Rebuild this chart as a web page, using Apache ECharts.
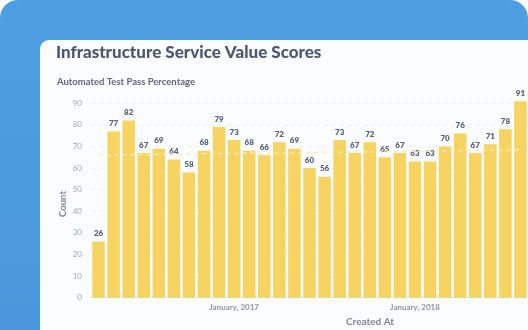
<!DOCTYPE html>
<html>
<head>
<meta charset="utf-8">
<script src="https://cdn.jsdelivr.net/npm/echarts@6/dist/echarts.min.js"></script>
<style>
  html, body { margin: 0; padding: 0; background: #ffffff; }
  #wrap { position: relative; width: 528px; height: 330px; overflow: hidden; }
  #backdrop {
    position: absolute; left: 0; top: 0; width: 528px; height: 360px;
    background: linear-gradient(180deg, #4f9ee2 0%, #4a96dc 100%);
    border-radius: 18px 18px 0 0;
  }
  #card {
    position: absolute; left: 40px; top: 40px; width: 520px; height: 320px;
    background: #fafcfe; border-radius: 9px 0 0 0;
  }
  #chart { position: absolute; left: 0; top: 0; width: 528px; height: 330px; }
</style>
</head>
<body>
<div id="wrap">
  <div id="backdrop"></div>
  <div id="card"></div>
  <div id="chart"></div>
</div>
<script>
// Monthly pass percentages
const months = [
  'April, 2016', 'May, 2016', 'June, 2016', 'July, 2016', 'August, 2016',
  'September, 2016', 'October, 2016', 'November, 2016', 'December, 2016',
  'January, 2017', 'February, 2017', 'March, 2017', 'April, 2017', 'May, 2017',
  'June, 2017', 'July, 2017', 'August, 2017', 'September, 2017', 'October, 2017',
  'November, 2017', 'December, 2017', 'January, 2018', 'February, 2018',
  'March, 2018', 'April, 2018', 'May, 2018', 'June, 2018', 'July, 2018', 'August, 2018'
];
const passCounts = [
  26, 77, 82, 67, 69, 64, 58, 68, 79, 73, 68, 66, 72, 69, 60,
  56, 73, 67, 72, 65, 67, 63, 63, 70, 76, 67, 71, 78, 91
];
const yTicks = [0, 10, 20, 30, 40, 50, 60, 70, 80, 90];
// trend line end values
const trendStart = 66;
const trendEnd = 68.4;

const FONT = 'Lato, "Open Sans", sans-serif';
const chart = echarts.init(document.getElementById('chart'), null, { renderer: 'canvas' });

chart.setOption({
  backgroundColor: 'transparent',
  animation: false,
  title: [
    {
      text: 'Infrastructure Service Value Scores',
      left: 51, top: 39,
      textStyle: { fontFamily: FONT, fontSize: 17, fontWeight: 900, color: '#4c5773' }
    },
    {
      text: 'Automated Test Pass Percentage',
      left: 52, top: 72,
      textStyle: { fontFamily: FONT, fontSize: 9.5, fontWeight: 700, color: '#5d687c' }
    },
    {
      text: 'Created At',
      left: 365, top: 312, textAlign: 'center',
      textStyle: { fontFamily: FONT, fontSize: 10, fontWeight: 700, color: '#7c8596' }
    }
  ],
  // y-axis title, placed beside the tick labels
  graphic: [
    {
      type: 'text',
      x: 63, y: 204,
      rotation: Math.PI / 2,
      style: {
        text: 'Count',
        fontFamily: FONT, fontSize: 9.5, fontWeight: 700, fill: '#7c8596',
        textAlign: 'center', textVerticalAlign: 'middle'
      }
    }
  ],
  grid: { left: 91, top: 103.3, width: 438, height: 194.4, containLabel: false },
  xAxis: {
    type: 'category',
    data: months,
    axisLine: { show: true, lineStyle: { color: '#dde1e6', width: 1 } },
    axisTick: { show: false },
    axisLabel: {
      interval: (i, v) => v.indexOf('January') === 0,
      margin: 6,
      fontFamily: FONT, fontSize: 8, fontWeight: 700, color: '#8d95a3'
    }
  },
  yAxis: {
    type: 'value',
    min: yTicks[0],
    max: yTicks[yTicks.length - 1],
    interval: 10,
    axisLine: { show: false },
    axisTick: { show: false },
    axisLabel: { margin: 9, fontFamily: FONT, fontSize: 8, color: '#a3a9b5' },
    splitLine: { show: true, lineStyle: { color: '#eceff3', type: [4, 4], width: 1 } }
  },
  series: [
    {
      type: 'bar',
      data: passCounts,
      clip: false,
      barCategoryGap: '17%',
      itemStyle: { color: '#f7d362' },
      label: {
        show: true, position: 'top', distance: 4,
        fontFamily: FONT, fontSize: 8, fontWeight: 800, color: '#5a6478'
      },
      markLine: {
        silent: true,
        symbol: ['none', 'none'],
        label: { show: false },
        lineStyle: { color: '#fcedb8', type: [4, 4], width: 1.5 },
        data: [[
          { coord: [months[0], trendStart] },
          { coord: [months[months.length - 1], trendEnd] }
        ]]
      }
    }
  ]
});
</script>
</body>
</html>
